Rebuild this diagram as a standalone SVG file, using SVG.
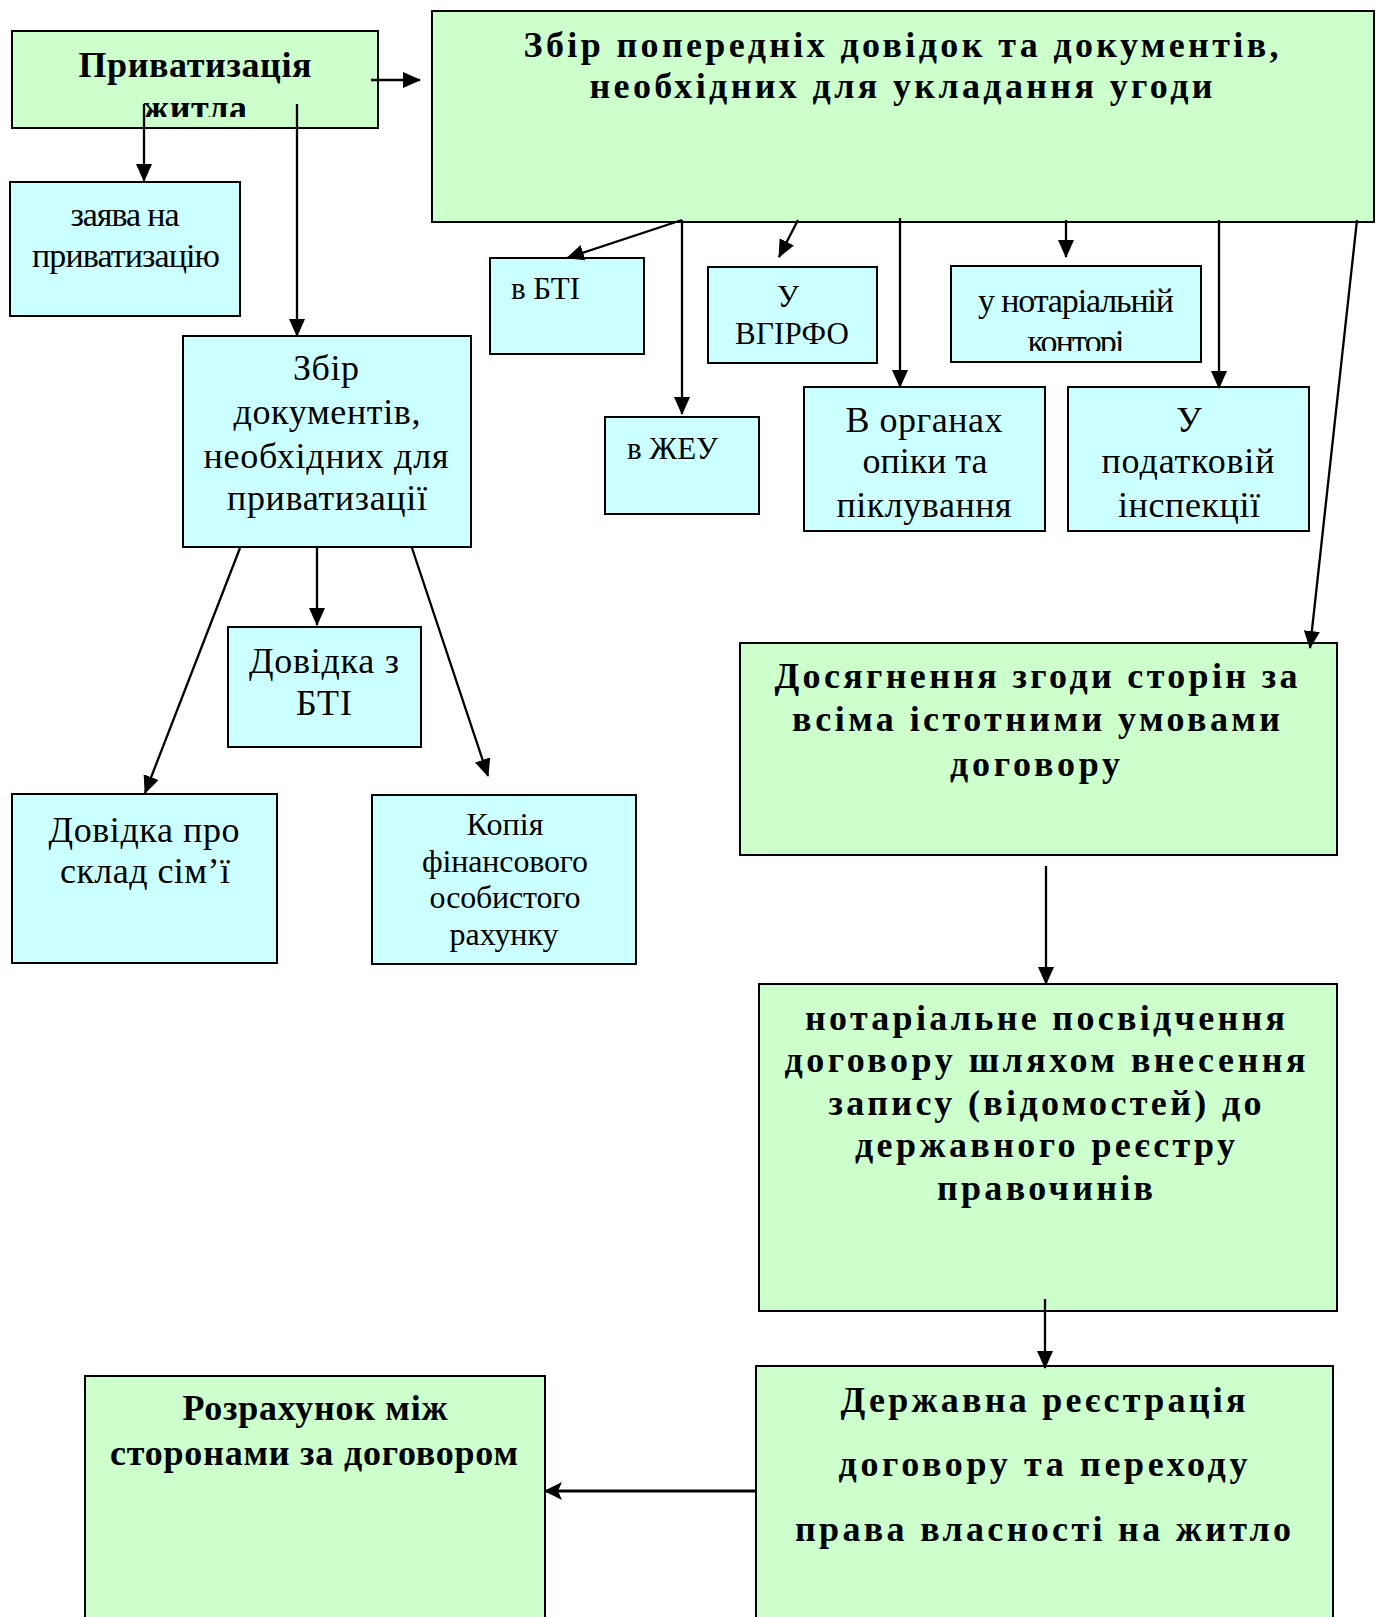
<svg xmlns="http://www.w3.org/2000/svg" width="1379" height="1617" viewBox="0 0 1379 1617">
<defs>
<style>
.g{fill:#ccffcc;stroke:#000;stroke-width:2}
.c{fill:#ccffff;stroke:#000;stroke-width:2}
text{font-family:"Liberation Serif","Times New Roman",serif;fill:#000}
.b{font-weight:bold;font-size:36px;text-anchor:middle}
.r{font-size:36px;text-anchor:middle}
.s{font-size:31px}
.sm{font-size:31px;text-anchor:middle}
.m{font-size:32px;text-anchor:middle}
.k{font-size:34px;text-anchor:middle}
.ln{stroke:#000;stroke-width:2.3;fill:none}
.th{stroke:#000;stroke-width:3;fill:none}
</style>
<marker id="ah" markerUnits="userSpaceOnUse" markerWidth="18" markerHeight="18" viewBox="0 0 18 18" refX="17" refY="9" orient="auto"><path d="M0,1 L18,9 L0,17 Z" fill="#000"/></marker>
<marker id="an" markerUnits="userSpaceOnUse" markerWidth="18" markerHeight="18" viewBox="0 0 18 18" refX="17" refY="9" orient="auto"><path d="M0,0 L18,9 L0,18 L4,9 Z" fill="#000"/></marker>
<clipPath id="clipA"><rect x="12" y="31" width="366" height="86"/></clipPath>
<clipPath id="clipK"><rect x="951" y="266" width="250" height="85"/></clipPath>
</defs>

<g id="n-privatyzatsiia">
<rect class="g" x="12" y="31" width="366" height="97"/>
<text class="b" x="195" y="77" textLength="233">Приватизація</text>
<text class="b" x="195" y="120" textLength="104" clip-path="url(#clipA)">житла</text>
</g>

<g id="n-zbir-poperednikh">
<rect class="g" x="432" y="11" width="942" height="211"/>
<text class="b" x="901" y="57" textLength="755">Збір попередніх довідок та документів,</text>
<text class="b" x="901" y="98" textLength="623">необхідних для укладання угоди</text>
</g>

<g id="n-zaiava">
<rect class="c" x="10" y="182" width="230" height="134"/>
<text class="k" x="125" y="226" textLength="109">заява на</text>
<text class="k" x="126" y="267" textLength="188">приватизацію</text>
</g>

<g id="n-zbir-dokumentiv">
<rect class="c" x="183" y="336" width="288" height="211"/>
<text class="r" x="326" y="380" textLength="66">Збір</text>
<text class="r" x="327" y="424" textLength="187">документів,</text>
<text class="r" x="326" y="468" textLength="245">необхідних для</text>
<text class="r" x="327" y="510" textLength="200">приватизації</text>
</g>

<g id="n-dovidka-bti">
<rect class="c" x="228" y="627" width="193" height="120"/>
<text class="r" x="324" y="673" textLength="150">Довідка з</text>
<text class="r" x="324" y="715" textLength="56">БТІ</text>
</g>

<g id="n-dovidka-sklad">
<rect class="c" x="12" y="794" width="265" height="169"/>
<text class="r" x="144" y="842" textLength="191">Довідка про</text>
<text class="r" x="145" y="883" textLength="170">склад сім’ї</text>
</g>

<g id="n-kopiia">
<rect class="c" x="372" y="795" width="264" height="169"/>
<text class="m" x="505" y="835" textLength="77">Копія</text>
<text class="m" x="505" y="872" textLength="166">фінансового</text>
<text class="m" x="505" y="908" textLength="151">особистого</text>
<text class="m" x="504" y="945" textLength="109">рахунку</text>
</g>

<g id="n-v-bti">
<rect class="c" x="490" y="258" width="154" height="96"/>
<text class="s" x="511" y="299" textLength="69">в БТІ</text>
</g>

<g id="n-v-zheu">
<rect class="c" x="605" y="417" width="154" height="97"/>
<text class="s" x="627" y="459" textLength="91">в ЖЕУ</text>
</g>

<g id="n-vhirfo">
<rect class="c" x="708" y="267" width="169" height="96"/>
<text class="sm" x="788" y="307">У</text>
<text class="sm" x="792" y="344" textLength="114">ВГІРФО</text>
</g>

<g id="n-notarialnii">
<rect class="c" x="951" y="266" width="250" height="96"/>
<text class="k" x="1076" y="312" textLength="196">у нотаріальній</text>
<text class="k" x="1076" y="353" textLength="97" clip-path="url(#clipK)">конторі</text>
</g>

<g id="n-orhany-opiky">
<rect class="c" x="804" y="387" width="241" height="144"/>
<text class="r" x="924" y="432" textLength="157">В органах</text>
<text class="r" x="925" y="473" textLength="125">опіки та</text>
<text class="r" x="924" y="517" textLength="175">піклування</text>
</g>

<g id="n-podatkova">
<rect class="c" x="1068" y="387" width="241" height="144"/>
<text class="r" x="1189" y="432">У</text>
<text class="r" x="1188" y="473" textLength="173">податковій</text>
<text class="r" x="1189" y="517" textLength="142">інспекції</text>
</g>

<g id="n-dosiahnennia">
<rect class="g" x="740" y="643" width="597" height="212"/>
<text class="b" x="1036" y="688" textLength="523">Досягнення згоди сторін за</text>
<text class="b" x="1036" y="731" textLength="488">всіма істотними умовами</text>
<text class="b" x="1035" y="776" textLength="170">договору</text>
</g>

<g id="n-notarialne">
<rect class="g" x="759" y="984" width="578" height="327"/>
<text class="b" x="1045" y="1030" textLength="480">нотаріальне посвідчення</text>
<text class="b" x="1045" y="1072" textLength="521">договору шляхом внесення</text>
<text class="b" x="1045" y="1115" textLength="433">запису (відомостей) до</text>
<text class="b" x="1045" y="1157" textLength="380">державного реєстру</text>
<text class="b" x="1045" y="1200" textLength="216">правочинів</text>
</g>

<g id="n-derzhavna">
<rect class="g" x="756" y="1366" width="577" height="260"/>
<text class="b" x="1043" y="1412" textLength="405">Державна реєстрація</text>
<text class="b" x="1043" y="1476" textLength="409">договору та переходу</text>
<text class="b" x="1043" y="1541" textLength="496">права власності на житло</text>
</g>

<g id="n-rozrakhunok">
<rect class="g" x="85" y="1376" width="460" height="250"/>
<text class="b" x="315" y="1420" textLength="265">Розрахунок між</text>
<text class="b" x="314" y="1465" textLength="408">сторонами за договором</text>
</g>

<g id="connectors">
<path class="ln" d="M371,80 H420" marker-end="url(#ah)"/>
<path class="ln" d="M144,104 V181" marker-end="url(#ah)"/>
<path class="ln" d="M297,104 V336" marker-end="url(#ah)"/>
<path class="ln" d="M682,220 L567,258" marker-end="url(#ah)"/>
<path class="ln" d="M682,220 V414" marker-end="url(#ah)"/>
<path class="ln" d="M798,220 L779,257" marker-end="url(#ah)"/>
<path class="ln" d="M900,218 V387" marker-end="url(#ah)"/>
<path class="ln" d="M1066,220 V257" marker-end="url(#ah)"/>
<path class="ln" d="M1219,220 V388" marker-end="url(#ah)"/>
<path class="ln" d="M1357,220 L1310,648" marker-end="url(#ah)"/>
<path class="ln" d="M317,548 V625" marker-end="url(#ah)"/>
<path class="ln" d="M240,548 L145,793" marker-end="url(#ah)"/>
<path class="ln" d="M412,548 L488,776" marker-end="url(#ah)"/>
<path class="ln" d="M1046,866 V984" marker-end="url(#ah)"/>
<path class="ln" d="M1045,1299 V1368" marker-end="url(#ah)"/>
<path class="th" d="M756,1491 H545" marker-end="url(#an)"/>
</g>
</svg>
